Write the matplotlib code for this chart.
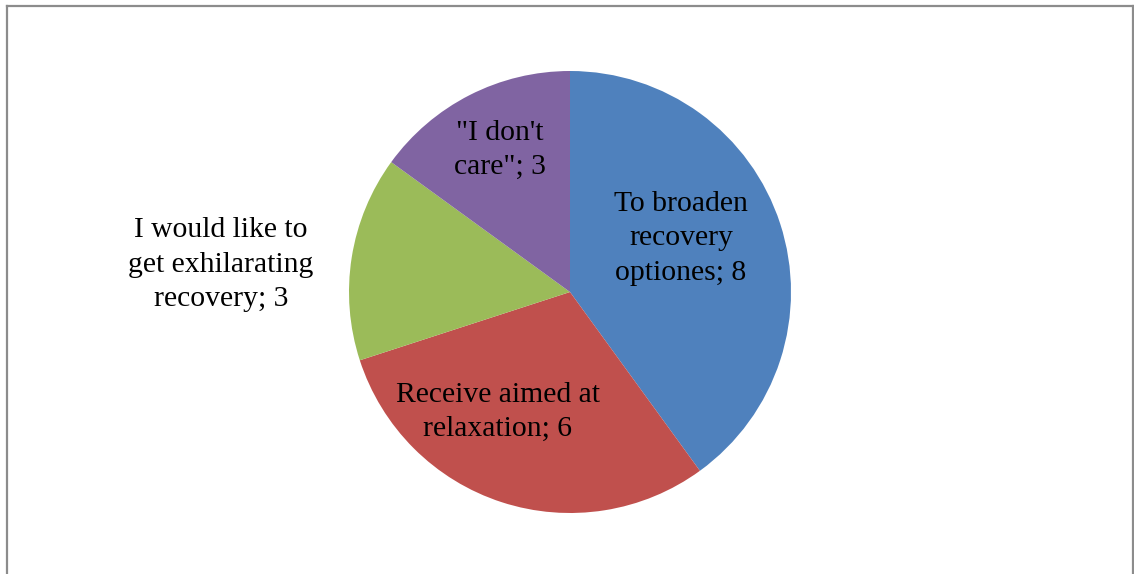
import matplotlib
matplotlib.use("Agg")
import matplotlib.pyplot as plt
from matplotlib.lines import Line2D

categories = ["To broaden\nrecovery\noptiones", "Receive aimed at\nrelaxation",
              "I would like to\nget exhilarating\nrecovery", "\"I don't\ncare\""]
values = [8, 6, 3, 3]
colors = ["#4F81BD", "#C0504D", "#9BBB59", "#8064A2"]
label_pos = [(0.502, 0.243), (-0.326, -0.543), (-1.579, 0.124), (-0.317, 0.643)]

W, H = 1134, 574
fig = plt.figure(figsize=(W / 100, H / 100), dpi=100)
cx, cy, r = 570, 574 - 292, 221
ax = fig.add_axes([(cx - r) / W, (cy - r) / H, 2 * r / W, 2 * r / H])
ax.pie(values, colors=colors, startangle=90, counterclock=False, radius=1,
       wedgeprops=dict(linewidth=0))
ax.set_xlim(-1, 1)
ax.set_ylim(-1, 1)
ax.set_aspect("equal")
ax.axis("off")

for cat, v, (x, y) in zip(categories, values, label_pos):
    ax.text(x, y, f"{cat}; {v}", ha="center", va="center", fontsize=21.3,
            family="Liberation Serif", color="black", linespacing=1.42, clip_on=False)

# chart frame
fc = "#8C8C8C"
fig.add_artist(Line2D([6.5 / W, 6.5 / W], [0, 1 - 5.5 / H], color=fc, lw=1.6, transform=fig.transFigure))
fig.add_artist(Line2D([1132.5 / W, 1132.5 / W], [0, 1 - 5.5 / H], color=fc, lw=1.6, transform=fig.transFigure))
fig.add_artist(Line2D([6.5 / W, 1132.5 / W], [1 - 5.5 / H, 1 - 5.5 / H], color=fc, lw=1.6, transform=fig.transFigure))

fig.savefig("out.png", dpi=100)
